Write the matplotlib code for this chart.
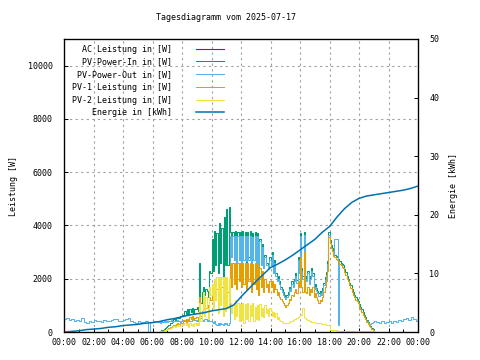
import numpy as np
import matplotlib.pyplot as plt
from matplotlib.ticker import MultipleLocator

# Leistungsdaten 06:30 - 21:00 im 5-Minuten-Raster (W)
pv_in = [50, 70, 90, 120, 150, 180,
         230, 280, 340, 350, 420, 470, 460, 530, 570, 520, 600, 610,
         650, 650, 780, 660, 850, 620, 870, 740, 900, 690, 850, 860,
         950, 800, 2600, 1100, 1500, 1700, 1400, 1600, 1550, 1300, 2300, 2200,
         3500, 2300, 3800, 2500, 3700, 2200, 4100, 2600, 3900, 2000, 4300, 2500,
         4600, 2500, 4700, 3750, 2800, 3750, 2700, 3800, 2600, 3750, 2700, 3750,
         2650, 3800, 2700, 3750, 2600, 3750, 2800, 3800, 2600, 3700, 2700, 3750,
         2500, 3700, 2400, 3500, 2600, 3300, 2500, 2900, 2600, 2600, 2500, 2800,
         2600, 3000, 2300, 2700, 2200, 2000, 2100, 1900, 1700, 1600, 1500, 1400,
         1350, 1400, 1500, 1700, 1650, 1900, 1800, 2000, 2200, 1950, 2800, 2300,
         3700, 2400, 2100, 3750, 2100, 2000, 2300, 1900, 2100, 2400, 2200, 1700,
         1800, 1650, 1550, 1450, 1550, 1500, 1650, 1850, 2050, 2250, 2650, 3750,
         3450, 3250, 3150, 2950, 2900, 2850, 2800, 2750, 2650, 2600, 2550, 2500,
         2350, 2250, 2100, 2000, 1850, 1750, 1600, 1500, 1400, 1300, 1250, 1180,
         1050, 950, 850, 750, 650, 550, 450, 370, 290, 220, 160, 100,
         40]

pv_out = [350, 400, 380, 420, 360, 400,
          380, 420, 400, 450, 380, 410, 430, 400, 450, 420, 380, 400,
          420, 450, 400, 480, 430, 460, 400, 420, 450, 500, 440, 420,
          450, 400, 480, 520, 450, 420, 480, 500, 430, 460, 400, 420,
          380, 350, 400, 300, 280, 350, 260, 320, 300, 280, 350, 300,
          320, 280, 350, 3600, 2800, 3600, 2700, 3600, 2600, 3600, 2700, 3600,
          2600, 3600, 2700, 3600, 2650, 3600, 2700, 3600, 2600, 3550, 2700, 3600,
          2400, 3600, 2300, 3400, 2500, 3200, 2400, 2800, 2500, 2500, 2400, 2700,
          2500, 2900, 2200, 2600, 2100, 1900, 2000, 1800, 1600, 1500, 1400, 1300,
          1250, 1300, 1400, 1600, 1550, 1800, 1700, 1900, 2100, 1850, 2700, 2200,
          3600, 2300, 2000, 3650, 2000, 1900, 2200, 1800, 2000, 2300, 2100, 1600,
          1700, 1550, 1450, 1350, 1450, 1400, 1550, 1750, 1950, 2150, 2550, 3650,
          3350, 3150, 3050, 2900, 3500, 3500, 3500, 260, 2550, 2500, 2450, 2400,
          2250, 2150, 2000, 1900, 1750, 1650, 1500, 1400, 1300, 1200, 1150, 1080,
          950, 850, 750, 650, 560, 470, 400, 320, 280, 300, 350, 380,
          400]

pv1 = [20, 30, 40, 60, 70, 90,
       120, 150, 180, 200, 230, 260, 280, 300, 320, 300, 340, 330,
       350, 400, 450, 380, 500, 420, 550, 480, 600, 450, 520, 580,
       550, 450, 1300, 600, 800, 1000, 700, 900, 1000, 700, 1300, 1200,
       1700, 1300, 1800, 1200, 1600, 1400, 1900, 1500, 1700, 1300, 2000, 1600,
       1800, 1500, 2000, 2600, 1700, 2600, 1800, 2600, 1600, 2600, 1900, 2600,
       1700, 2600, 1800, 2600, 1600, 2600, 1900, 2600, 1500, 2550, 1800, 2600,
       1600, 2550, 1400, 2400, 1700, 2300, 1500, 2000, 1700, 1800, 1500, 1900,
       1700, 1900, 1500, 1800, 1600, 1400, 1500, 1300, 1250, 1150, 1100, 1000,
       950, 1000, 1100, 1250, 1200, 1400, 1350, 1500, 1600, 1450, 1900, 1700,
       2800, 1700, 1500, 3000, 1500, 1450, 1700, 1400, 1600, 1500, 1700, 1300,
       1450, 1300, 1200, 1100, 1200, 1150, 1300, 1500, 1700, 1900, 2300, 3550,
       3350, 3150, 3050, 2850, 2800, 2750, 2700, 2650, 2550, 2500, 2450, 2400,
       2250, 2150, 2000, 1900, 1750, 1650, 1500, 1400, 1300, 1200, 1150, 1080,
       950, 850, 750, 650, 560, 470, 380, 300, 230, 170, 120, 70,
       20]

pv2 = [30, 40, 50, 60, 80, 90,
       110, 130, 160, 150, 190, 210, 180, 230, 250, 220, 260, 280,
       300, 250, 330, 280, 350, 200, 320, 260, 300, 240, 330, 280,
       350, 280, 1100, 400, 700, 1500, 600, 1300, 900, 500, 1700, 1400,
       1800, 900, 2000, 1200, 2050, 700, 2080, 1000, 2070, 600, 2050, 800,
       2060, 900, 2000, 1100, 700, 1000, 500, 1200, 600, 1100, 400, 1050,
       450, 1100, 350, 1050, 500, 1080, 400, 1000, 600, 1100, 400, 950,
       500, 1000, 450, 1050, 600, 900, 550, 1000, 700, 850, 600, 900,
       800, 600, 750, 550, 700, 500, 550, 450, 400, 380, 350, 340,
       330, 340, 350, 380, 400, 420, 450, 480, 500, 520, 560, 600,
       620, 650, 900, 580, 520, 480, 450, 420, 400, 390, 380, 360,
       350, 340, 330, 320, 320, 310, 300, 300, 290, 280, 270, 260,
       70, 60, 60, 60, 60, 60, 50, 50, 50, 50, 50, 50,
       50, 50, 50, 50, 50, 50, 50, 50, 50, 50, 50, 50,
       40, 40, 40, 40, 30, 30, 30, 30, 30, 20, 20, 20,
       10]

ac = []

# PV-Power-Out nachts, 10-Minuten-Raster (00:00-06:20 und 21:10-24:00)
out_early = [500, 520, 450, 480, 420, 460, 400, 520, 380, 350, 420, 380, 450,
             400, 430, 380, 460, 420, 400, 440, 480, 500, 420, 400, 440, 500,
             520, 400, 380, 350, 400, 360, 380, 400, 0, 380, 420, 400, 380]
out_late = [380, 350, 400, 320, 380, 400, 350, 420, 380, 450, 400, 500,
            520, 450, 550, 480, 420, 400]

# Energie (kWh), halbstuendlich
energie = [0.0, 0.1, 0.2, 0.4, 0.5, 0.6, 0.8, 0.9, 1.1, 1.2, 1.3, 1.5, 1.6,
           1.8, 2.1, 2.3, 2.6, 2.9, 3.1, 3.3, 3.6, 3.8, 4.0, 4.6, 6.0, 7.3,
           8.6, 9.8, 11.0, 11.6, 12.3, 13.1, 14.0, 14.9, 15.8, 17.0, 18.0,
           19.6, 21.0, 22.1, 22.8, 23.2, 23.4, 23.6, 23.8, 24.0, 24.2, 24.5,
           24.9]

xticklabels = ['00:00', '02:00', '04:00', '06:00', '08:00', '10:00', '12:00',
               '14:00', '16:00', '18:00', '20:00', '22:00', '00:00']

t_day = 6.5 + np.arange(len(pv_in)) * 5 / 60
t_early = np.arange(len(out_early)) * 10 / 60
t_late = 21 + (np.arange(len(out_late)) + 1) * 10 / 60
t_out = np.concatenate([t_early, t_day, t_late])
v_out = np.concatenate([out_early, pv_out, out_late])
t_en = np.arange(len(energie)) * 0.5

plt.rcParams['font.family'] = 'DejaVu Sans Mono'
plt.rcParams['font.size'] = 6

fig = plt.figure(figsize=(4.8, 3.6), dpi=100)
ax = fig.add_axes([64 / 480, 28 / 360, 354 / 480, 293 / 360])

h_ac, = ax.step(ac, ac, where='post', color='#9400D3', lw=0.8, label='AC Leistung in [W]')
h_in, = ax.step(t_day, pv_in, where='post', color='#009E73', lw=0.75, label='PV-Power-In in [W]')
h_out, = ax.step(t_out, v_out, where='post', color='#56B4E9', lw=0.75, label='PV-Power-Out in [W]')
h_1, = ax.step(t_day, pv1, where='post', color='#E69F00', lw=0.75, label='PV-1 Leistung in [W]')
h_2, = ax.step(t_day, pv2, where='post', color='#F0E442', lw=0.75, label='PV-2 Leistung in [W]')

ax.set_xlim(0, 24)
ax.set_ylim(0, 11000)
ax.set_xticks(np.arange(0, 25, 2))
ax.set_xticklabels(xticklabels)
ax.xaxis.set_minor_locator(MultipleLocator(1))
ax.set_yticks(np.arange(0, 10001, 2000))
ax.tick_params(axis='both', which='major', direction='in', length=3, width=0.7)
ax.tick_params(axis='x', which='minor', direction='in', length=2, width=0.7)
ax.tick_params(axis='y', right=True, pad=8)
ax.tick_params(axis='x', pad=4)
ax.grid(True, which='major', color='#a0a0a0', linestyle=(0, (2, 3)), lw=0.8)
ax.set_ylabel('Leistung [W]', labelpad=7)
for s in ax.spines.values():
    s.set_linewidth(0.9)

ax2 = ax.twinx()
h_en, = ax2.plot(t_en, energie, color='#0072B2', lw=1.1, label='Energie in [kWh]')
ax2.set_ylim(0, 50)
ax2.set_yticks(np.arange(0, 51, 10))
ax2.tick_params(axis='y', direction='in', length=3, width=0.7, pad=8)
ax2.set_ylabel('Energie [kWh]', labelpad=7)

handles = [h_ac, h_in, h_out, h_1, h_2, h_en]
ax2.legend(handles=handles, loc='upper left', bbox_to_anchor=(0.01, 0.995),
           frameon=False, markerfirst=False, fontsize=6, borderpad=0,
           handlelength=3.4, handletextpad=2.9, labelspacing=0.45)

fig.text(226 / 480, 1 - 17 / 360, 'Tagesdiagramm vom 2025-07-17', ha='center', va='center', fontsize=6)

fig.savefig('out.png', dpi=100)
plt.close()
